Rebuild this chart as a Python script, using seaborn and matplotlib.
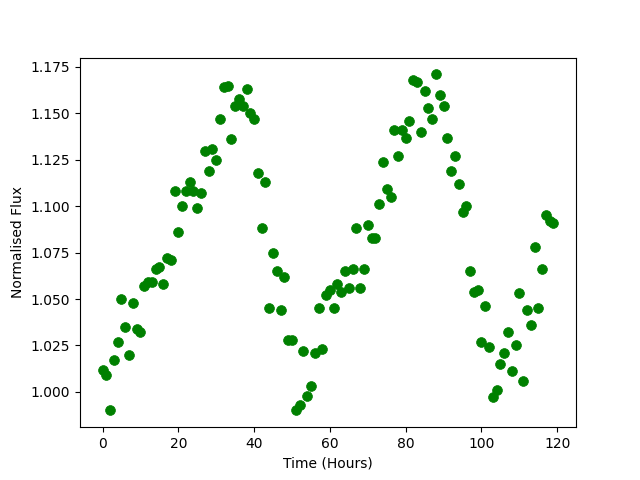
import matplotlib
matplotlib.use("Agg")
import matplotlib.pyplot as plt
import seaborn as sns
import pandas as pd

# time of each sample (hours)
hours = [
    0, 1, 2, 3, 4, 5, 6, 7, 8, 9,
    10, 11, 12, 13, 14, 15, 16, 17, 18, 19,
    20, 21, 22, 23, 24, 25, 26, 27, 28, 29,
    30, 31, 32, 33, 34, 35, 36, 37, 38, 39,
    40, 41, 42, 43, 44, 45, 46, 47, 48, 49,
    50, 51, 52, 53, 54, 55, 56, 57, 58, 59,
    60, 61, 62, 63, 64, 65, 66, 67, 68, 69,
    70, 71, 72, 73, 74, 75, 76, 77, 78, 79,
    80, 81, 82, 83, 84, 85, 86, 87, 88, 89,
    90, 91, 92, 93, 94, 95, 96, 97, 98, 99,
    100, 101, 102, 103, 104, 105, 106, 107, 108, 109,
    110, 111, 112, 113, 114, 115, 116, 117, 118, 119,
]

# normalised flux
flux = [
    1.012, 1.009, 0.990, 1.017, 1.027, 1.050, 1.035, 1.020, 1.048, 1.034,
    1.032, 1.057, 1.059, 1.059, 1.066, 1.067, 1.058, 1.072, 1.071, 1.108,
    1.086, 1.100, 1.108, 1.113, 1.108, 1.099, 1.107, 1.130, 1.119, 1.131,
    1.125, 1.147, 1.164, 1.165, 1.136, 1.154, 1.158, 1.154, 1.163, 1.150,
    1.147, 1.118, 1.088, 1.113, 1.045, 1.075, 1.065, 1.044, 1.062, 1.028,
    1.028, 0.990, 0.993, 1.022, 0.998, 1.003, 1.021, 1.045, 1.023, 1.052,
    1.055, 1.045, 1.058, 1.054, 1.065, 1.056, 1.066, 1.088, 1.056, 1.066,
    1.090, 1.083, 1.083, 1.101, 1.124, 1.109, 1.105, 1.141, 1.127, 1.141,
    1.137, 1.146, 1.168, 1.167, 1.140, 1.162, 1.153, 1.147, 1.171, 1.160,
    1.154, 1.137, 1.119, 1.127, 1.112, 1.097, 1.100, 1.065, 1.054, 1.055,
    1.027, 1.046, 1.024, 0.997, 1.001, 1.015, 1.021, 1.032, 1.011, 1.025,
    1.053, 1.006, 1.044, 1.036, 1.078, 1.045, 1.066, 1.095, 1.092, 1.091,
]

df = pd.DataFrame({"Time (Hours)": hours, "Normalised Flux": flux})

fig, ax = plt.subplots(figsize=(6.4, 4.8), dpi=100)

sns.scatterplot(data=df, x="Time (Hours)", y="Normalised Flux", ax=ax,
                color="green", s=50, edgecolor="green", linewidth=0.5)

ax.set_xlabel("Time (Hours)")
ax.set_ylabel("Normalised Flux")

plt.savefig("out.png", dpi=100)
plt.close()
